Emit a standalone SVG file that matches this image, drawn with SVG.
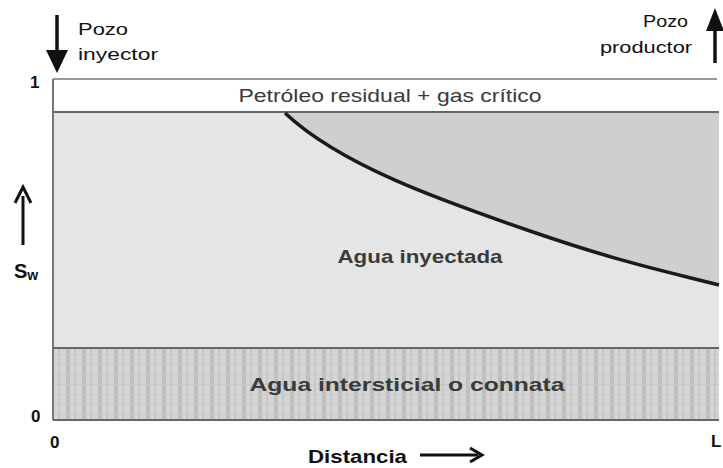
<svg xmlns="http://www.w3.org/2000/svg" width="723" height="468" viewBox="0 0 723 468">
<defs>
<style>
.lbl{font-family:"Liberation Sans",Arial,sans-serif;font-weight:bold;fill:#111}
.pz{font-family:"Liberation Sans",Arial,sans-serif;fill:#111}
.in{font-family:"Liberation Sans",Arial,sans-serif;fill:#3a3a3a}
.ax{stroke:#111;stroke-width:3.5;fill:none}
.bd{fill:none;stroke:#666;stroke-width:2}
</style>
<pattern id="grid" x="0" y="0" width="16" height="10" patternUnits="userSpaceOnUse">
<rect width="16" height="10" fill="#d4d4d4"/>
<rect x="2" width="4" height="10" fill="#bfbfbf"/>
<rect x="10" width="2" height="10" fill="#c7c7c7"/>
<rect y="4" width="16" height="1" fill="#c8c8c8"/>
</pattern>
</defs>
<rect width="723" height="468" fill="#fff"/>
<g id="plot">
<rect id="zone-top" x="53" y="79" width="666" height="33" fill="#fff"/>
<rect id="zone-injected" x="53" y="112" width="666" height="236" fill="#e5e5e5"/>
<path id="zone-oil" d="M285,112 L285,113 C340,165 440,200 530,231 S660,270 719,285 L719,112 Z" fill="#cfcfcf"/>
<rect id="zone-connate" x="53" y="348" width="666" height="72" fill="url(#grid)"/>
<line class="bd" x1="53" y1="79" x2="717" y2="79" style="stroke:#777;stroke-width:1.5"/>
<line class="bd" x1="53" y1="112" x2="719" y2="112"/>
<line class="bd" x1="53" y1="348" x2="719" y2="348"/>
<line class="bd" x1="53" y1="420" x2="719" y2="420"/>
<line class="bd" x1="53" y1="79" x2="53" y2="420" style="stroke:#777"/>
<path id="front" d="M285,113 C340,165 440,200 530,231 S660,270 719,285" stroke="#1a1a1a" stroke-width="3.5" fill="none"/>
<text class="in" x="390" y="102" font-size="19" text-anchor="middle" textLength="303" lengthAdjust="spacingAndGlyphs">Petróleo residual + gas crítico</text>
<text class="in" x="420" y="263" font-size="19" font-weight="bold" text-anchor="middle" textLength="165" lengthAdjust="spacingAndGlyphs">Agua inyectada</text>
<text class="in" x="407" y="391" font-size="19" font-weight="bold" text-anchor="middle" textLength="315" lengthAdjust="spacingAndGlyphs">Agua intersticial o connata</text>
</g>
<g id="injector">
<line class="ax" x1="57" y1="15" x2="57" y2="52"/>
<path d="M46,50 L68,50 L57,73 Z" fill="#111"/>
<text class="pz" x="78" y="35" font-size="17" textLength="50" lengthAdjust="spacingAndGlyphs">Pozo</text>
<text class="pz" x="78" y="60" font-size="17" textLength="80" lengthAdjust="spacingAndGlyphs">inyector</text>
</g>
<g id="producer">
<line class="ax" x1="715" y1="28" x2="715" y2="63"/>
<path d="M706,31 L724,31 L715,8 Z" fill="#111"/>
<text class="pz" x="688" y="27" font-size="17" text-anchor="end" textLength="45" lengthAdjust="spacingAndGlyphs">Pozo</text>
<text class="pz" x="692" y="53" font-size="17" text-anchor="end" textLength="92" lengthAdjust="spacingAndGlyphs">productor</text>
</g>
<g id="axes">
<text class="lbl" x="30" y="88" font-size="17">1</text>
<text class="lbl" x="31" y="422" font-size="17">0</text>
<text class="lbl" x="50" y="448" font-size="17">0</text>
<text class="lbl" x="711" y="447" font-size="17">L</text>
<line class="ax" x1="23" y1="245" x2="23" y2="196" style="stroke-width:3"/>
<path d="M15,203 L23,187 L31,203" stroke="#111" stroke-width="3" fill="none"/>
<text class="lbl" x="14" y="278" font-size="20">S<tspan font-size="14" dy="2">w</tspan></text>
<text class="lbl" x="308" y="463" font-size="19" textLength="99" lengthAdjust="spacingAndGlyphs">Distancia</text>
<line x1="420" y1="455" x2="478" y2="455" stroke="#111" stroke-width="3"/>
<path d="M470,448 L482,455 L470,462" stroke="#111" stroke-width="3" fill="none"/>
</g>
</svg>
